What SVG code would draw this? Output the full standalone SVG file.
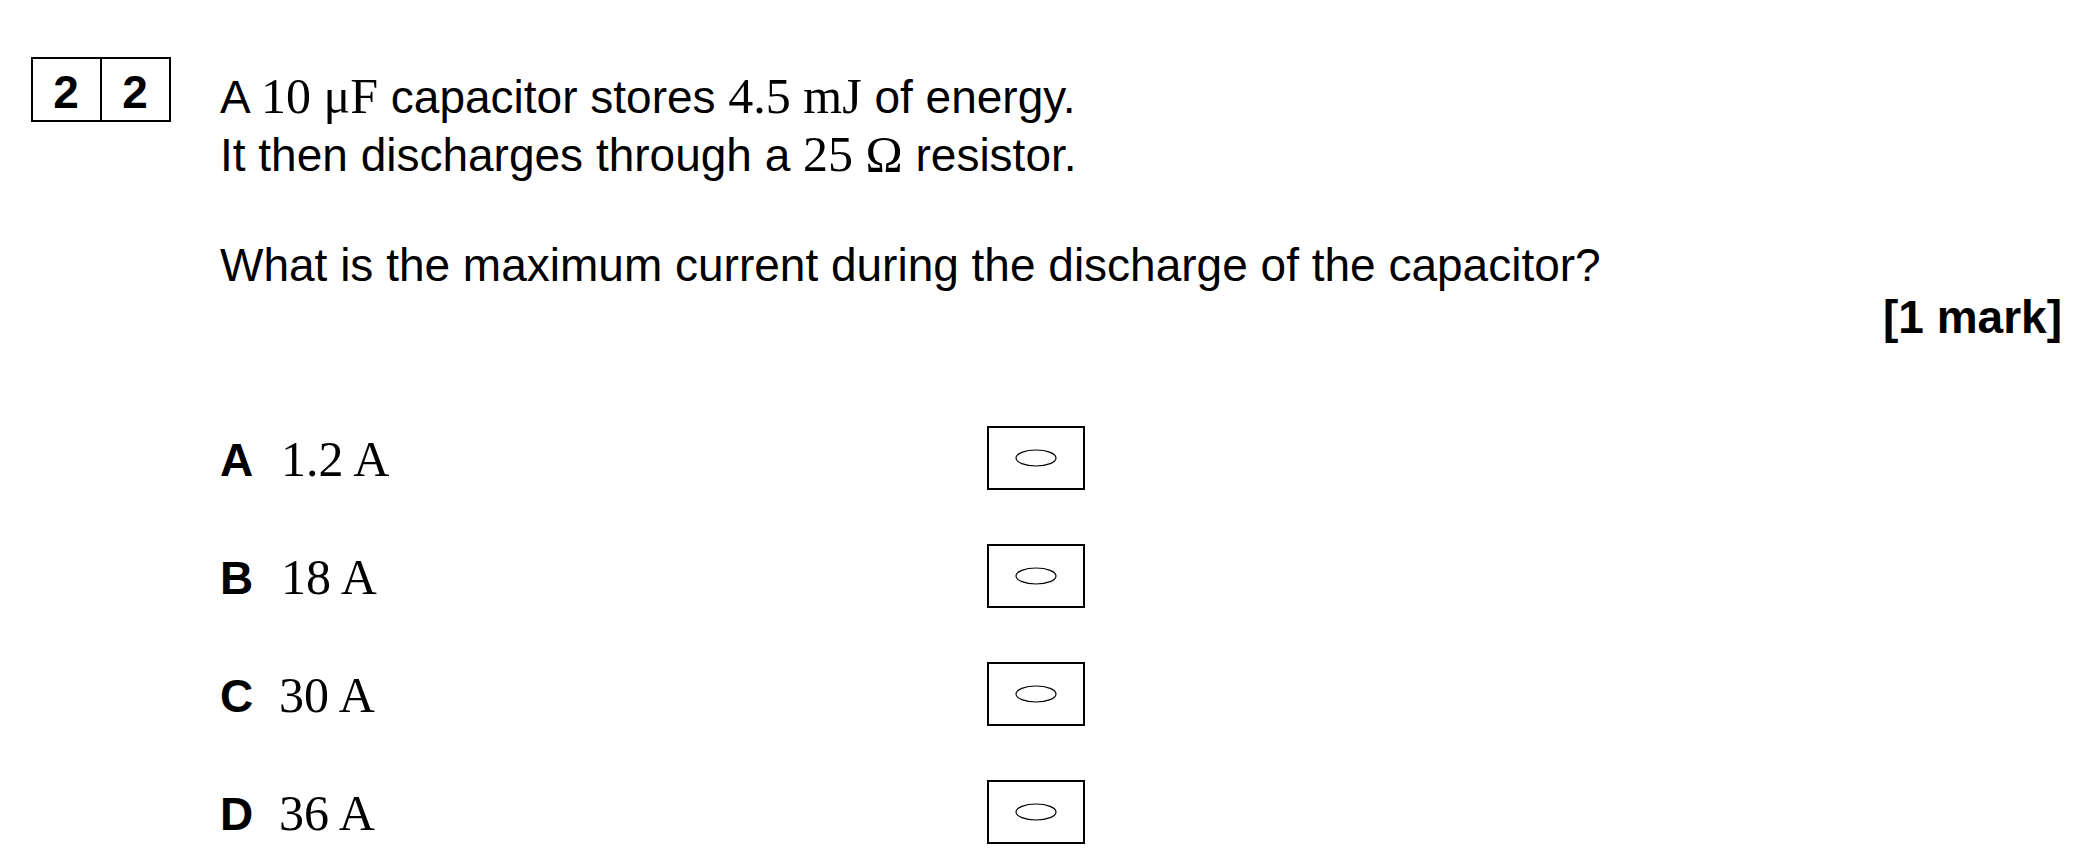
<svg xmlns="http://www.w3.org/2000/svg" width="2077" height="863" viewBox="0 0 2077 863">
<style>
.s{font-family:"Liberation Sans",Arial,sans-serif;font-size:46px;fill:#000}
.b{font-weight:bold}
.t{font-family:"Liberation Serif","Times New Roman",serif;font-size:50px}
.box{fill:none;stroke:#000;stroke-width:2}
.ov{fill:none;stroke:#000;stroke-width:1.2}
</style>
<rect width="2077" height="863" fill="#fff"/>
<g id="qnum">
<rect class="box" x="32" y="58" width="138" height="63"/>
<line x1="101" y1="58" x2="101" y2="121" stroke="#000" stroke-width="2"/>
<text class="s b" x="66" y="108" text-anchor="middle" font-size="44">2</text>
<text class="s b" x="135" y="108" text-anchor="middle" font-size="44">2</text>
</g>
<g id="question">
<text class="s" x="220" y="113">A <tspan class="t">10 μF</tspan> capacitor stores <tspan class="t">4.5 mJ</tspan> of energy.</text>
<text class="s" x="220" y="171">It then discharges through a <tspan class="t">25 Ω</tspan> resistor.</text>
<text class="s" x="220" y="281">What is the maximum current during the discharge of the capacitor?</text>
<text class="s b" x="2062" y="333" text-anchor="end">[1 mark]</text>
</g>
<g id="optA">
<text class="s b" x="220" y="476">A</text><text class="s t" x="281" y="476">1.2 A</text>
<rect class="box" x="988" y="427" width="96" height="62"/><ellipse cx="1036" cy="458" rx="20" ry="8" class="ov"/>
</g>
<g id="optB">
<text class="s b" x="220" y="594">B</text><text class="s t" x="281" y="594">18 A</text>
<rect class="box" x="988" y="545" width="96" height="62"/><ellipse cx="1036" cy="576" rx="20" ry="8" class="ov"/>
</g>
<g id="optC">
<text class="s b" x="220" y="712">C</text><text class="s t" x="279" y="712">30 A</text>
<rect class="box" x="988" y="663" width="96" height="62"/><ellipse cx="1036" cy="694" rx="20" ry="8" class="ov"/>
</g>
<g id="optD">
<text class="s b" x="220" y="830">D</text><text class="s t" x="279" y="830">36 A</text>
<rect class="box" x="988" y="781" width="96" height="62"/><ellipse cx="1036" cy="812" rx="20" ry="8" class="ov"/>
</g>
<g id="connectors"/>
</svg>
